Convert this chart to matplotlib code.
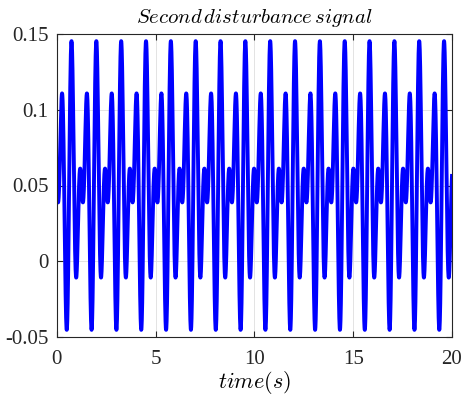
import matplotlib
matplotlib.use("Agg")
import matplotlib.pyplot as plt
import numpy as np

# disturbance: offset + sum of sine components
offset = 0.05
amps = [0.05, -0.05]      # amplitude of each component
freqs = [10.0, 15.0]      # rad/s
t_end = 20

xticks = [0, 5, 10, 15, 20]
yticks = [-0.05, 0, 0.05, 0.1, 0.15]
ylabels = ["-0.05", "0", "0.05", "0.1", "0.15"]

t = np.linspace(0, t_end, 4000)
d = offset + sum(a * np.sin(w * t) for a, w in zip(amps, freqs))

plt.rcParams['mathtext.fontset'] = 'cm'
plt.rcParams['font.family'] = 'Liberation Serif'

fig = plt.figure(figsize=(4.62, 3.96), dpi=100)
ax = fig.add_axes([56.7/462, 1-337/396, (452-56.7)/462, (337-34)/396])
ax.plot(t, d, color='#0000ff', linewidth=2.8)

ax.set_xlim(0, 20)
ax.set_ylim(-0.05, 0.15)
ax.set_xticks(xticks)
ax.set_yticks(yticks)
ax.set_yticklabels(ylabels)
ax.tick_params(direction='in', length=4, width=0.8, labelsize=15,
               top=True, right=True, colors='#262626')
ax.tick_params(axis='x', pad=9)
ax.tick_params(axis='y', pad=6)
ax.grid(True, color='#dedede', linewidth=0.6)
for s in ax.spines.values():
    s.set_color('#262626')
    s.set_linewidth(0.8)

ax.set_title(r'$Second\,disturbance\,signal$', fontsize=15, pad=8)
ax.set_xlabel(r'$time(s)$', fontsize=16, labelpad=0)

fig.savefig('out.png', dpi=100)
